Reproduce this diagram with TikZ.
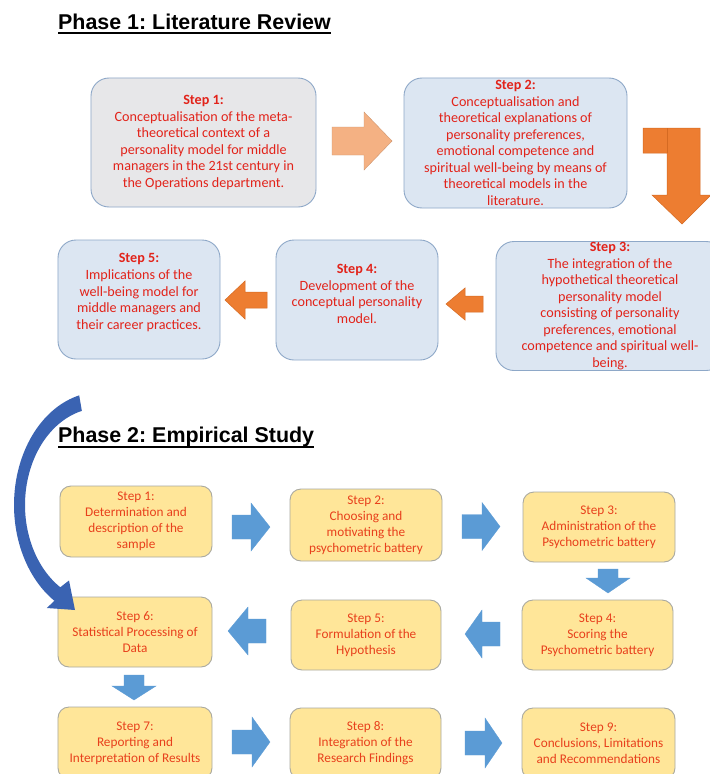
\documentclass[tikz,border=0pt]{standalone}
\usepackage{fontspec}
\setmainfont{Carlito}
\newfontfamily\titlefont{Liberation Sans}
\frenchspacing
\definecolor{p1red}{HTML}{E2231A}
\definecolor{p2red}{HTML}{E8401C}
\definecolor{p1border}{HTML}{8EA8C8}
\definecolor{p1blue}{HTML}{DCE6F2}
\definecolor{p1gray}{HTML}{E7E7E9}
\definecolor{p2fill}{HTML}{FFE699}
\definecolor{p2border}{HTML}{A9A9A0}
\definecolor{orangeA}{HTML}{ED7D31}
\definecolor{orangeB}{HTML}{F4B183}
\definecolor{orangeLine}{HTML}{D56A22}
\definecolor{blueA}{HTML}{5B9BD5}
\definecolor{curveblue}{HTML}{3A63B2}
\newcommand\harrow[7]{\filldraw[#1] (#2,{#5-#6}) -- (#3,{#5-#6}) -- (#3,{#5-#7}) -- (#4,#5) -- (#3,{#5+#7}) -- (#3,{#5+#6}) -- (#2,{#5+#6}) -- cycle;}
\newcommand\varrow[7]{\filldraw[#1] ({#5-#6},#2) -- ({#5-#6},#3) -- ({#5-#7},#3) -- (#5,#4) -- ({#5+#7},#3) -- ({#5+#6},#3) -- ({#5+#6},#2) -- cycle;}
\tikzset{
  p1box/.style={draw=p1border, line width=0.9bp, rounded corners=18bp, inner sep=0pt, align=center, text=p1red, font=\fontsize{14.2}{16.6}\selectfont},
  p1text/.style={inner sep=0pt, align=center, text=p1red, font=\fontsize{14.2}{16.6}\selectfont},
  p2box/.style={draw=p2border, fill=p2fill, line width=0.9bp, rounded corners=11bp, inner sep=0pt, align=center, text=p2red, font=\fontsize{13.3}{16}\selectfont},
  titlestyle/.style={inner sep=0pt, anchor=base west, font=\titlefont\bfseries\fontsize{21.5}{24}\selectfont},
  orarrow/.style={fill=orangeA, draw=orangeLine, line width=0.5bp},
  lorarrow/.style={fill=orangeB, draw=orangeB!85!black, line width=0.4bp},
  blarrow/.style={fill=blueA, draw=blueA, line width=0.3bp}
}
\begin{document}
\begin{tikzpicture}[x=1bp,y=-1bp]
\useasboundingbox (0,0) rectangle (710,774);
\clip (0,0) rectangle (710,774);
\fill[white] (0,0) rectangle (710,774);

% Titles
\node[titlestyle] (t1) at (58,30) {Phase 1: Literature Review};
\draw[line width=2bp] ([yshift=-3.5bp]t1.base west) -- ([yshift=-3.5bp]t1.base east);
\node[titlestyle] (t2) at (58,442) {Phase 2: Empirical Study};
\draw[line width=2bp] ([yshift=-4.5bp]t2.base west) -- ([yshift=-4.5bp]t2.base east);

% Phase 1 boxes
\node[p1box, fill=p1gray, minimum width=225bp, minimum height=129bp] (a1) at (203.5,142.5)
 {\textbf{Step 1:}\\Conceptualisation of the meta-\\theoretical context of a\\personality model for middle\\managers in the 21st century in\\the Operations department.};
\node[p1box, fill=p1blue, minimum width=223bp, minimum height=130bp] (a2) at (515.5,143)
 {\textbf{Step 2:}\\Conceptualisation and\\theoretical explanations of\\personality preferences,\\emotional competence and\\spiritual well-being by means of\\theoretical models in the\\literature.};
\node[p1box, fill=p1blue, minimum width=228bp, minimum height=129bp] (a3) at (610,306)
 {\textbf{Step 3:}\\The integration of the\\hypothetical theoretical\\personality model\\consisting of personality\\preferences, emotional\\competence and spiritual well-\\being.};
\node[p1box, fill=p1blue, minimum width=162bp, minimum height=120bp] (a4) at (357,300) {};
\node[p1text] (a4t) at ([yshift=6bp]a4.center)
 {\textbf{Step 4:}\\Development of the\\conceptual personality\\model.};
\node[p1box, fill=p1blue, minimum width=162bp, minimum height=119bp] (a5) at (139,299.5) {};
\node[p1text] (a5t) at ([yshift=7bp]a5.center)
 {\textbf{Step 5:}\\Implications of the\\well-being model for\\middle managers and\\their career practices.};

% Phase 1 arrows
\harrow{lorarrow}{332}{364}{392}{141}{14}{29}
\harrow{orarrow}{483}{465}{446}{304}{8}{16}
\harrow{orarrow}{267}{245}{225}{300}{8}{19}
\filldraw[orarrow] (643,128) -- (700,128) -- (700,195) -- (711,195) -- (682,224) -- (652,195) -- (667,195) -- (667,153) -- (643,153) -- cycle;
\draw[orangeLine, line width=0.5bp] (667,128) -- (667,153);

% Phase 2 boxes
\node[p2box, minimum width=152bp, minimum height=71bp] (b1) at (136,521.5)
 {Step 1:\\Determination and\\description of the\\sample};
\node[p2box, minimum width=152bp, minimum height=72bp] (b2) at (366,525)
 {Step 2:\\Choosing and\\motivating the\\psychometric battery};
\node[p2box, minimum width=152bp, minimum height=70bp] (b3) at (599,527)
 {Step 3:\\Administration of the\\Psychometric battery};
\node[p2box, minimum width=151bp, minimum height=70bp] (b4) at (597.5,635)
 {Step 4:\\Scoring the\\Psychometric battery};
\node[p2box, minimum width=150bp, minimum height=70bp] (b5) at (366,635)
 {Step 5:\\Formulation of the\\Hypothesis};
\node[p2box, minimum width=154bp, minimum height=70bp] (b6) at (135,632)
 {Step 6:\\Statistical Processing of\\Data};
\node[p2box, minimum width=154bp, minimum height=72bp] (b7) at (135,743)
 {Step 7:\\Reporting and\\Interpretation of Results};
\node[p2box, minimum width=151bp, minimum height=71bp] (b8) at (365.5,743.5)
 {Step 8:\\Integration of the\\Research Findings};
\node[p2box, minimum width=153bp, minimum height=71bp] (b9) at (598.5,743.5)
 {Step 9:\\Conclusions, Limitations\\and Recommendations};

% Phase 2 arrows
\harrow{blarrow}{232}{251}{270}{527}{12}{24}
\harrow{blarrow}{462}{482}{500}{526.5}{12}{24}
\varrow{blarrow}{569}{578}{593}{608}{10}{22}
\harrow{blarrow}{500}{482}{465}{634}{12}{24}
\harrow{blarrow}{266}{248}{228}{631}{12}{24}
\varrow{blarrow}{675}{686}{700}{134}{10}{22}
\harrow{blarrow}{232}{252}{270}{742}{12}{25}
\harrow{blarrow}{465}{485}{502}{743}{12}{25}

% Curved arrow from Phase 1 to Phase 2
\fill[curveblue] plot[domain=104:238,samples=60] ({100+86*cos(\x)},{505-113*sin(\x)})
  -- (46.8,608) -- (75,610) -- (69,580.5)
  -- plot[domain=238:104,samples=60] ({100+75*cos(\x)},{505-97*sin(\x)}) -- cycle;
\end{tikzpicture}
\end{document}
